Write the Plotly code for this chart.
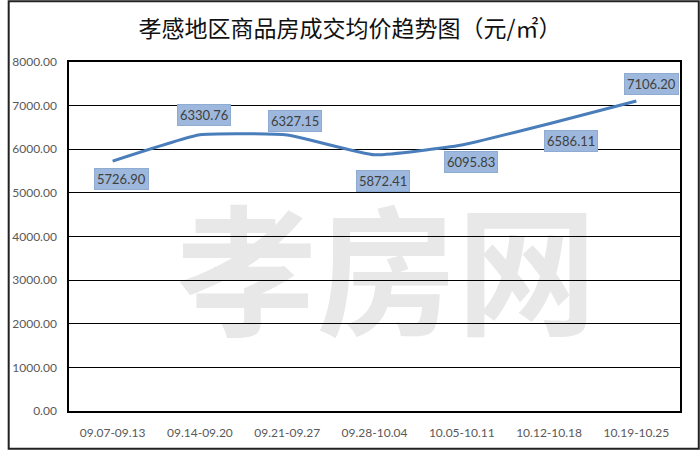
import plotly.graph_objects as go

categories = ["09.07-09.13", "09.14-09.20", "09.21-09.27", "09.28-10.04",
              "10.05-10.11", "10.12-10.18", "10.19-10.25"]
prices = [5726.90, 6330.76, 6327.15, 5872.41, 6095.83, 6586.11, 7106.20]
label_shift_x = [9, 4, 8, 8, 9, 22, 15]
label_shift_y = [-18, 20, 14, -26, -17, -17, 17]

fig = go.Figure()
fig.add_trace(go.Scatter(
    x=categories, y=prices, mode="lines",
    line=dict(color="#4a7ebb", width=3, shape="spline", smoothing=0.4),
    hoverinfo="skip", showlegend=False,
))

for c, v, dx, dy in zip(categories, prices, label_shift_x, label_shift_y):
    fig.add_annotation(
        x=c, y=v, text=f"{v:.2f}", showarrow=False,
        xshift=dx, yshift=dy,
        font=dict(family="Lato, Open Sans, sans-serif", size=13, color="#404040"),
        bgcolor="#9db8dc", bordercolor="#8eabd2", borderwidth=1, borderpad=2,
    )

# watermark behind gridlines
fig.add_shape(
    type="rect", xref="paper", yref="paper", x0=0.1, x1=0.94, y0=0.26, y1=0.46,
    layer="below", line=dict(width=0), fillcolor="rgba(0,0,0,0)",
    label=dict(text="<b>孝房网</b>", font=dict(family="Noto Sans CJK SC", size=140, color="#e8e8e8"),
               textposition="middle center"),
)

fig.update_layout(
    width=700, height=452,
    margin=dict(l=62, r=20, t=62, b=39),
    paper_bgcolor="white", plot_bgcolor="rgba(0,0,0,0)",
    title=dict(text="孝感地区商品房成交均价趋势图（元/㎡）", x=0.5, xanchor="center",
               y=0.935, yanchor="middle",
               font=dict(family="Noto Sans CJK SC", size=23, color="#111111")),
    font=dict(family="Lato, Open Sans, sans-serif", size=12, color="#595959"),
)
fig.update_xaxes(
    type="category", range=[-0.5, 6.5], showgrid=False, showline=True,
    linecolor="black", linewidth=1.5, mirror=True, ticks="",
    tickfont=dict(size=12, color="#595959"), ticklabelstandoff=10,
)
fig.update_yaxes(
    range=[0, 8000], dtick=1000, tickformat=".2f", showgrid=True, gridcolor="black",
    gridwidth=1, showline=True, linecolor="black", linewidth=1.5, mirror=True,
    zeroline=False, ticks="", tickfont=dict(size=12, color="#595959"), ticklabelstandoff=8,
)

# outer border of the chart image
fig.add_shape(type="rect", xref="paper", yref="paper",
              x0=-61/618, x1=1+19/618, y0=-38/351, y1=1+61/351,
              line=dict(color="#222222", width=2), layer="above")

fig.write_html("out.html", config={"displayModeBar": False},
               post_script="document.body.style.margin='0';document.body.style.overflow='hidden';")
